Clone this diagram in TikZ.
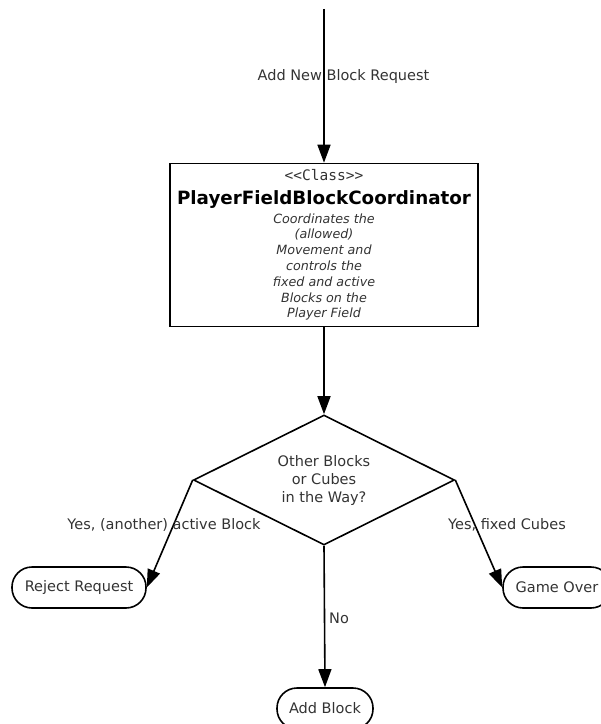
\documentclass[tikz,border=0pt]{standalone}
\usepackage{fontspec}
\setmainfont{DejaVu Sans}
\setmonofont{DejaVu Sans Mono}
\usetikzlibrary{arrows.meta,shapes.geometric}

\tikzset{
  flow/.style={line width=1.6bp, -{Triangle[length=18bp,width=13bp]}},
  classbox/.style={draw, line width=1.6bp, rectangle, minimum width=308bp,
    minimum height=163bp, inner sep=0pt, align=center, text=black!80,
    font=\fontsize{12.7bp}{15.8bp}\selectfont\itshape},
  decision/.style={draw, line width=1.6bp, diamond, aspect=2,
    minimum width=261bp, minimum height=130bp, inner sep=0pt, align=center,
    text=black!80, font=\fontsize{14.5bp}{18bp}\selectfont},
  terminal/.style={draw, line width=1.6bp, rectangle, rounded corners=20bp,
    minimum height=41bp, inner sep=0pt, text=black!80,
    font=\fontsize{14.5bp}{17.5bp}\selectfont},
  flowlabel/.style={text=black!80, inner sep=0pt,
    font=\fontsize{14.5bp}{17.5bp}\selectfont},
}

\begin{document}
\begin{tikzpicture}[x=1bp, y=-1bp]
  \useasboundingbox (0,0) rectangle (601,724);

  % incoming request
  \coordinate (start) at (324,9);

  % the coordinator class
  \node[classbox] (coord) at (324,245) {%
    {\upshape\ttfamily\fontsize{14.5bp}{15.8bp}\selectfont <{}<Class>{}>}\\[7.6bp]
    {\upshape\bfseries\color{black}\fontsize{18.3bp}{15.8bp}\selectfont PlayerFieldBlockCoordinator}\\[3.2bp]
    Coordinates the\\
    (allowed)\\
    Movement and\\
    controls the\\
    fixed and active\\
    Blocks on the\\
    Player Field};

  % the decision
  \node[decision] (check) at (324,480) {Other Blocks\\or Cubes\\in the Way?};

  % outcomes
  \node[terminal, minimum width=134bp] (reject) at (79,587.5) {Reject Request};
  \node[terminal, minimum width=108bp] (over) at (557,587.5) {Game Over};
  \node[terminal, minimum width=96bp] (add) at (325,708.5) {Add Block};

  % connectors
  \draw[flow] (start) -- (coord.north);
  \draw[flow] (coord.south) -- (check.north);
  \draw[flow] (check.west) -- (reject.east);
  \draw[flow] (check.east) -- (over.west);
  \draw[flow] (check.south) -- (add.north);

  % connector labels
  \node[flowlabel] (lreq) at (343.5,77) {Add New Block Request};
  \node[flowlabel] (lact) at (164,525) {Yes, (another) active Block};
  \node[flowlabel] (lfix) at (507,525) {Yes, fixed Cubes};
  \node[flowlabel, anchor=west] (lno) at (329,618) {No};
\end{tikzpicture}
\end{document}
